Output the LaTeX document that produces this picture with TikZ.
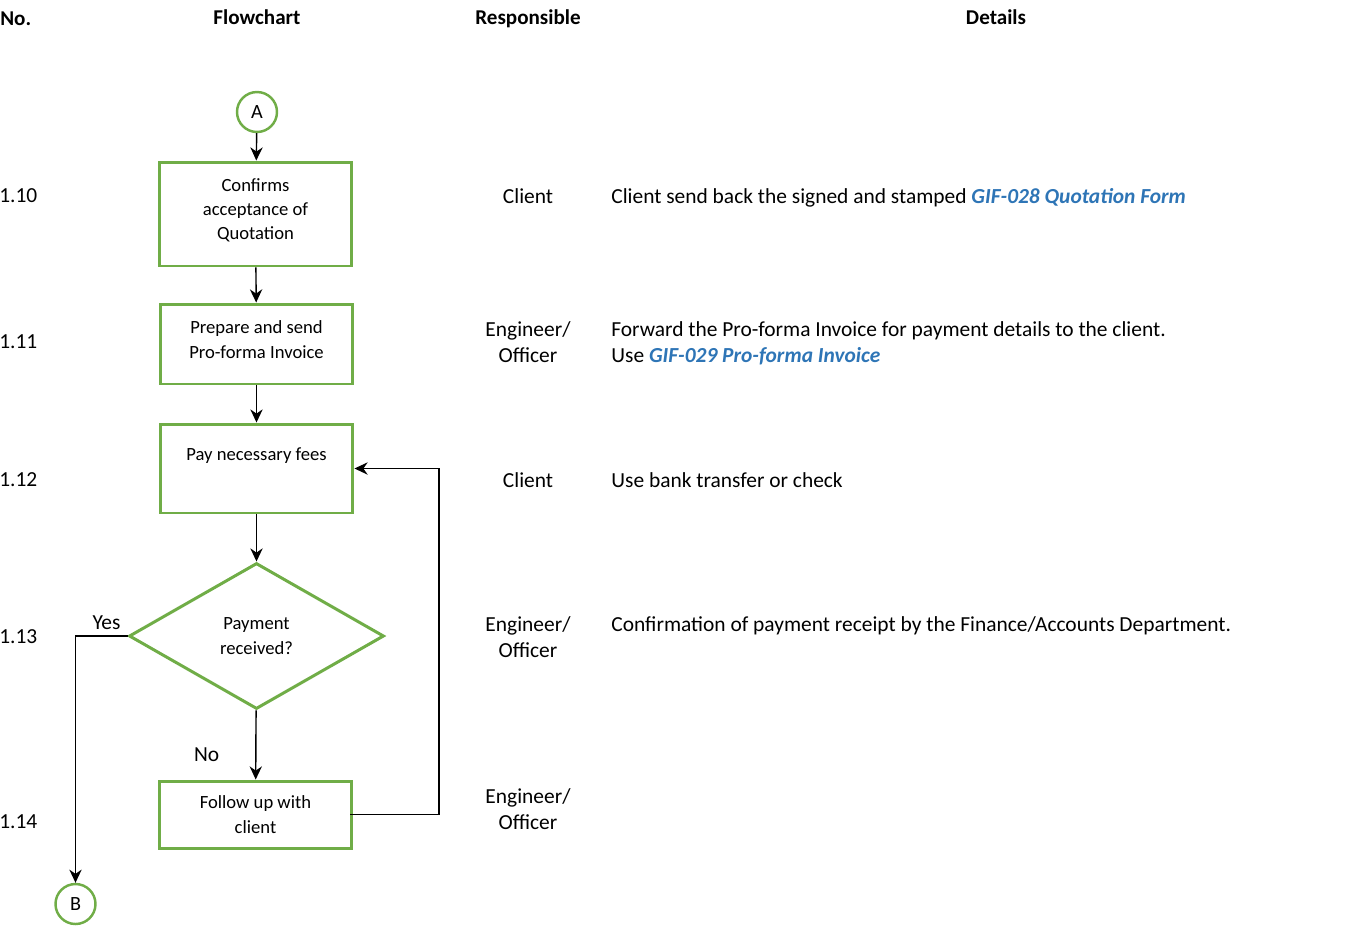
\documentclass[tikz,border=0pt]{standalone}
\usepackage{fontspec}
\setmainfont{Carlito}
\usetikzlibrary{shapes.geometric,arrows.meta,positioning}
\definecolor{flowgreen}{HTML}{70AD47}
\definecolor{formblue}{HTML}{2E75B6}
\newcommand{\formref}[1]{{\color{formblue}\bfseries\itshape #1}}
\newcommand{\lowend}[1]{\rule[-#1]{0pt}{#1}}
\begin{document}
\begin{tikzpicture}[x=0.02cm,y=-0.02cm,
  >={Stealth[length=7.5pt,width=7pt]},
  every node/.style={inner sep=0pt},
  coltext/.style={font=\fontsize{12.2}{14.7}\selectfont,align=center},
  dettext/.style={font=\fontsize{12.2}{14.7}\selectfont,align=left,anchor=west},
  headtext/.style={font=\fontsize{12}{14.7}\selectfont\bfseries},
  stepbox/.style={draw=flowgreen,line width=1.7pt,minimum width=3.86cm,align=center,
    font=\fontsize{10.6}{13.8}\selectfont},
  decision/.style={diamond,draw=flowgreen,line width=1.7pt,minimum width=5.1cm,
    minimum height=2.92cm,align=center,font=\fontsize{10.6}{13.8}\selectfont},
  connector/.style={circle,draw=flowgreen,line width=1.4pt,minimum size=0.8cm,
    font=\fontsize{11.5}{13}\selectfont},
  flowline/.style={line width=0.8pt}]
\useasboundingbox (0,0) rectangle (1372,931);
\pgfmathsetmacro{\colresp}{528};
\pgfmathsetmacro{\coldet}{611};
\pgfmathsetmacro{\colloop}{439};
% header row
\node[headtext,anchor=west] (hno) at (0,18.5) {No.};
\node[headtext] (hflow) at (257,17) {Flowchart};
\node[headtext] (hresp) at (\colresp,19) {Responsible};
\node[headtext] (hdet) at (996,17) {Details};
% flowchart
\node[connector] (A) at (257,112) {A};
\node[stepbox,minimum height=2.08cm] (confirm) at (255.5,214) {Confirms\\acceptance of\\Quotation\lowend{5.5pt}};
\node[stepbox,minimum height=1.6cm] (invoice) at (256.5,344) {Prepare and send\\Pro-forma Invoice\lowend{5pt}};
\node[stepbox,minimum height=1.78cm] (pay) at (256.5,468.5) {Pay necessary fees\lowend{16pt}};
\node[decision] (check) at (256.5,636) {Payment\\received?};
\node[stepbox,minimum height=1.34cm] (follow) at (255.5,814.5) {Follow up with\\client};
\node[connector] (B) at (75.5,904) {B};
\coordinate (loop) at (\colloop,640);
\draw[flowline,->] (A) -- (confirm);
\draw[flowline,->] (confirm) -- (invoice);
\draw[flowline,->] (invoice) -- (pay);
\draw[flowline,->] (pay) -- (check);
\draw[flowline,->] (check) -- node[coltext,pos=0.64,left=0.72cm]{No} (follow);
\draw[flowline,->] (check.west) -- node[coltext,above=0.12cm,xshift=0.1cm]{Yes} (check.west -| B) -- (B);
\draw[flowline,->] ([xshift=-0.06cm]follow.east) -- (follow.east -| loop) -- (pay.east -| loop) -- (pay.east);
% numbers
\node[coltext,anchor=west] (n10) at (-1,196) {1.10};
\node[coltext,anchor=west] (n11) at (-1,342) {1.11};
\node[coltext,anchor=west] (n12) at (-1,480) {1.12};
\node[coltext,anchor=west] (n13) at (-1,637) {1.13};
\node[coltext,anchor=west] (n14) at (-1,822) {1.14};
% responsible
\node[coltext] (r10) at (\colresp,196) {Client};
\node[coltext] (r11) at (\colresp,342) {Engineer/\\Officer};
\node[coltext] (r12) at (\colresp,480) {Client};
\node[coltext] (r13) at (\colresp,637) {Engineer/\\Officer};
\node[coltext] (r14) at (\colresp,809) {Engineer/\\Officer};
% details
\node[dettext] (d10) at (\coldet,198) {Client send back the signed and stamped \formref{GIF-028 Quotation Form}};
\node[dettext] (d11) at (\coldet,343) {Forward the Pro-forma Invoice for payment details to the client.\\Use \formref{GIF-029 Pro-forma Invoice}};
\node[dettext] (d12) at (\coldet,480) {Use bank transfer or check};
\node[dettext] (d13) at (\coldet,626) {Confirmation of payment receipt by the Finance/Accounts Department.};
\end{tikzpicture}
\end{document}
